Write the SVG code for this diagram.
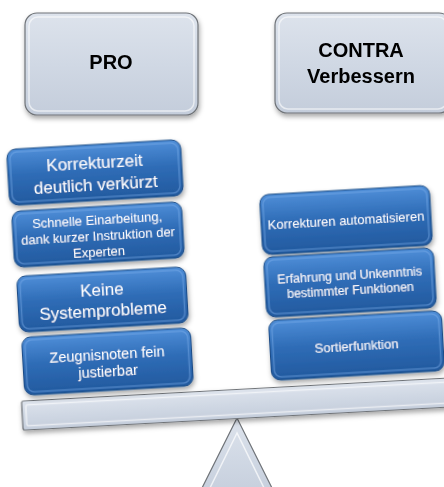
<svg xmlns="http://www.w3.org/2000/svg" width="444" height="487" viewBox="0 0 444 487">
<defs>
  <linearGradient id="gBlue" x1="0" y1="0" x2="0" y2="1">
    <stop offset="0" stop-color="#4f8ed8"/>
    <stop offset="0.45" stop-color="#2f6db7"/>
    <stop offset="1" stop-color="#22599e"/>
  </linearGradient>
  <linearGradient id="gGrey" x1="0" y1="0" x2="0" y2="1">
    <stop offset="0" stop-color="#dde3ec"/>
    <stop offset="0.5" stop-color="#d0d8e4"/>
    <stop offset="1" stop-color="#c4cddb"/>
  </linearGradient>
  <filter id="shadow" x="-10%" y="-20%" width="120%" height="150%">
    <feDropShadow dx="1" dy="3" stdDeviation="2.5" flood-color="#000" flood-opacity="0.35"/>
  </filter>
</defs>
<style>
  .blue { fill: url(#gBlue); stroke: #1d4c86; stroke-width: 1; }
  .blueIn { fill: none; stroke: #7fb0ea; stroke-opacity: 0.45; stroke-width: 1.5; }
  .grey { fill: url(#gGrey); stroke: #6f7378; stroke-width: 1.2; }
  .greyIn { fill: none; stroke: #ffffff; stroke-opacity: 0.6; stroke-width: 1.5; }
  .wt { fill: #ffffff; font-family: "Liberation Sans", Arial, sans-serif; text-anchor: middle; }
  .hd { fill: #000000; font-family: "Liberation Sans", Arial, sans-serif; font-weight: bold; font-size: 20px; text-anchor: middle; }
</style>

<!-- Header nodes -->
<g id="pro" filter="url(#shadow)">
  <rect class="grey" x="25" y="13" width="173" height="102" rx="12"/>
  <rect class="greyIn" x="29" y="17" width="165" height="94" rx="9"/>
  <text class="hd" x="111" y="69">PRO</text>
</g>
<g id="contra" filter="url(#shadow)">
  <rect class="grey" x="275" y="13" width="176" height="100" rx="12"/>
  <rect class="greyIn" x="279" y="17" width="168" height="92" rx="9"/>
  <text class="hd" x="361" y="57">CONTRA</text>
  <text class="hd" x="361" y="83">Verbessern</text>
</g>

<!-- Beam and fulcrum -->
<g id="fulcrum">
  <polygon points="237,418 196,500 278,500" fill="url(#gGrey)" stroke="#6f7378" stroke-width="1.2"/>
  <polygon points="237,433 207,494 267,494" fill="none" stroke="#ffffff" stroke-opacity="0.7" stroke-width="1.5"/>
</g>
<g id="beam" transform="translate(237,404) rotate(-3.1)" filter="url(#shadow)">
  <rect class="grey" x="-215" y="-14.5" width="432" height="29" rx="2"/>
  <rect class="greyIn" x="-211" y="-10.5" width="424" height="21" rx="2"/>
</g>

<!-- PRO items -->
<g id="pro1" transform="translate(95,172.5) rotate(-3.3)" filter="url(#shadow)">
  <rect class="blue" x="-87" y="-28" width="174" height="56" rx="9"/>
  <rect class="blueIn" x="-84" y="-25" width="168" height="50" rx="7"/>
  <text class="wt" font-size="17" x="0" y="-4">Korrekturzeit</text>
  <text class="wt" font-size="17" x="0" y="18">deutlich verkürzt</text>
</g>
<g id="pro2" transform="translate(98,234.5) rotate(-3.3)" filter="url(#shadow)">
  <rect class="blue" x="-85" y="-28" width="170" height="56" rx="9"/>
  <rect class="blueIn" x="-82" y="-25" width="164" height="50" rx="7"/>
  <text class="wt" font-size="13" x="0" y="-10">Schnelle Einarbeitung,</text>
  <text class="wt" font-size="13" x="0" y="6">dank kurzer Instruktion der</text>
  <text class="wt" font-size="13" x="0" y="22">Experten</text>
</g>
<g id="pro3" transform="translate(102.5,299.5) rotate(-3.3)" filter="url(#shadow)">
  <rect class="blue" x="-84.5" y="-28" width="169" height="56" rx="9"/>
  <rect class="blueIn" x="-81.5" y="-25" width="163" height="50" rx="7"/>
  <text class="wt" font-size="17" x="0" y="-4">Keine</text>
  <text class="wt" font-size="17" x="0" y="17">Systemprobleme</text>
</g>
<g id="pro4" transform="translate(107.5,361.5) rotate(-3.3)" filter="url(#shadow)">
  <rect class="blue" x="-84.5" y="-29" width="169" height="58" rx="9"/>
  <rect class="blueIn" x="-81.5" y="-26" width="163" height="52" rx="7"/>
  <text class="wt" font-size="14.5" x="0" y="-2">Zeugnisnoten fein</text>
  <text class="wt" font-size="14.5" x="0" y="15">justierbar</text>
</g>

<!-- CONTRA items -->
<g id="con1" transform="translate(346,220) rotate(-3.3)" filter="url(#shadow)">
  <rect class="blue" x="-85" y="-30" width="170" height="60" rx="9"/>
  <rect class="blueIn" x="-82" y="-27" width="164" height="54" rx="7"/>
  <text class="wt" font-size="13" x="0" y="4.5">Korrekturen automatisieren</text>
</g>
<g id="con2" transform="translate(350,282.5) rotate(-3.3)" filter="url(#shadow)">
  <rect class="blue" x="-85" y="-30" width="170" height="60" rx="9"/>
  <rect class="blueIn" x="-82" y="-27" width="164" height="54" rx="7"/>
  <text class="wt" font-size="12.5" x="0" y="-3">Erfahrung und Unkenntnis</text>
  <text class="wt" font-size="12.5" x="0" y="12">bestimmter Funktionen</text>
</g>
<g id="con3" transform="translate(356.5,345.5) rotate(-3.3)" filter="url(#shadow)">
  <rect class="blue" x="-86.5" y="-30" width="173" height="60" rx="9"/>
  <rect class="blueIn" x="-83.5" y="-27" width="167" height="54" rx="7"/>
  <text class="wt" font-size="13" x="0" y="4.5">Sortierfunktion</text>
</g>

<g id="connectors"></g>
</svg>
